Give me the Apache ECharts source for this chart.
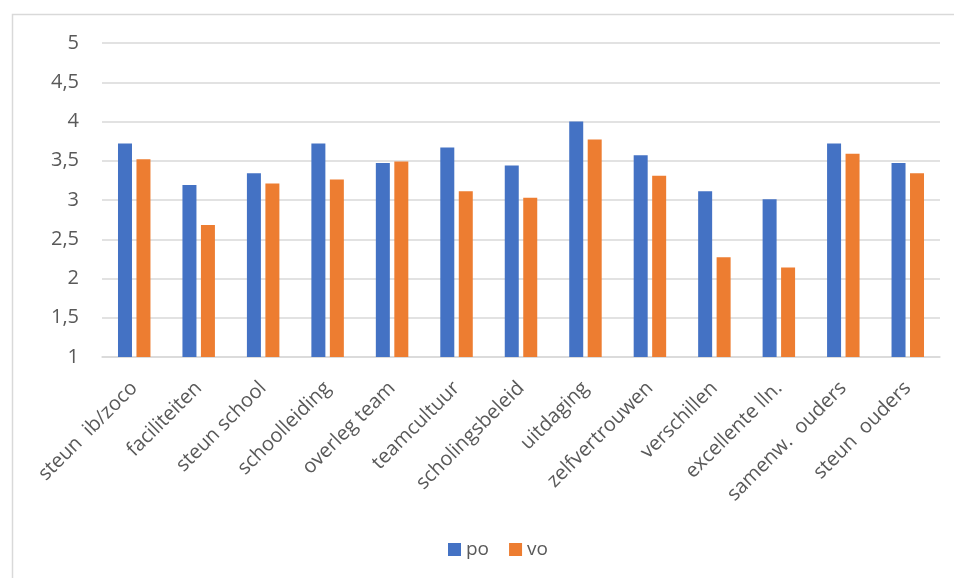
<!DOCTYPE html>
<html>
<head>
<meta charset="utf-8">
<script src="https://cdn.jsdelivr.net/npm/echarts@6/dist/echarts.min.js"></script>
<style>
html,body{margin:0;padding:0;background:#fff;}
#c{width:954px;height:578px;}
</style>
</head>
<body>
<div id="c"></div>
<script>
const categories = ['steun  ib/zoco','faciliteiten','steun school','schoolleiding','overleg team','teamcultuur','scholingsbeleid','uitdaging','zelfvertrouwen','verschillen','excellente lln.','samenw.  ouders','steun  ouders'];
const poValues = [3.72,3.19,3.34,3.72,3.47,3.67,3.44,4.00,3.57,3.11,3.01,3.72,3.47];
const voValues = [3.52,2.68,3.21,3.26,3.49,3.11,3.03,3.77,3.31,2.27,2.14,3.59,3.34];
const seriesNames = ['po','vo'];

const chart = echarts.init(document.getElementById('c'));
const textColor = '#595959';
const font = "'Open Sans', 'Noto Sans', sans-serif";
chart.setOption({
  animation: false,
  textStyle: {fontFamily: font},
  graphic: [{
    type: 'rect',
    shape: {x: 12.5, y: 14.5, width: 1000, height: 1000},
    style: {fill: 'none', stroke: '#d9d9d9', lineWidth: 1.5},
    silent: true
  }],
  grid: {left: 102, right: 14, top: 43, bottom: 221, containLabel: false},
  legend: {
    top: 535,
    left: 443,
    itemWidth: 13,
    itemHeight: 13,
    itemGap: 20,
    icon: 'rect',
    textStyle: {color: textColor, fontSize: 19, fontFamily: font},
    data: seriesNames
  },
  xAxis: {
    type: 'category',
    data: categories,
    axisLine: {lineStyle: {color: '#d9d9d9', width: 1.5}},
    axisTick: {show: false},
    axisLabel: {
      rotate: 45,
      color: textColor,
      fontSize: 20,
      margin: 28,
      interval: 0,
      fontFamily: font
    }
  },
  yAxis: {
    type: 'value',
    min: 1,
    max: 5,
    interval: 0.5,
    axisLine: {show: false},
    axisTick: {show: false},
    splitLine: {lineStyle: {color: '#d9d9d9', width: 1.5}},
    axisLabel: {
      color: textColor,
      fontSize: 20,
      margin: 23,
      fontFamily: font,
      formatter: v => String(v).replace('.', ',')
    }
  },
  series: [
    {name: seriesNames[0], type: 'bar', data: poValues, barWidth: 14, barGap: '32%',
     itemStyle: {color: '#4472c4'}},
    {name: seriesNames[1], type: 'bar', data: voValues, barWidth: 14,
     itemStyle: {color: '#ed7d31'}}
  ]
});
</script>
</body>
</html>
